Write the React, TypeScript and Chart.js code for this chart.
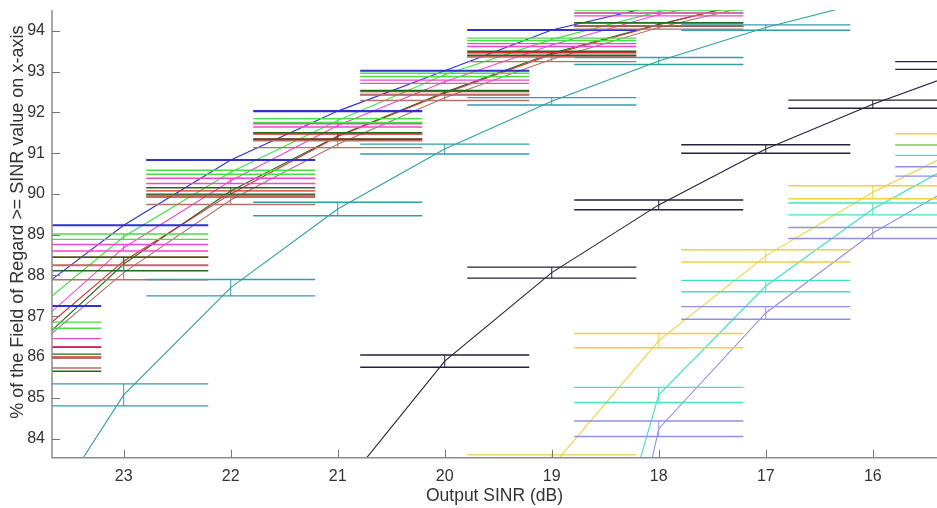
import React, { useEffect, useRef } from "react";
import { Chart, registerables } from "chart.js";

Chart.register(...registerables);

// Output SINR values (dB) at which each curve is sampled
const sinrDb = [24, 23, 22, 21, 20, 19, 18, 17, 16, 15];
const xTickValues = [23, 22, 21, 20, 19, 18, 17, 16];
const yTickValues = [84, 85, 86, 87, 88, 89, 90, 91, 92, 93, 94];
const xTitle = "Output SINR (dB)";
const yTitle = "% of the Field of Regard >= SINR value on x-axis";

// mean values (%) and half error bar heights for each series
const blueMean = [87.25, 89.23, 90.83, 92.03, 93.02, 94.02, 94.63, 95.2, null, null];
const blueErr = [0.008, 0.008, 0.008, 0.008, 0.008, 0.008, 0.008, 0.008, 0, 0];

const greenMean = [86.78, 88.95, 90.53, 91.8, 92.92, 93.79, 94.47, 95.0, null, null];
const greenErr = [0.075, 0.065, 0.05, 0.045, 0.04, 0.03, 0.04, 0.04, 0, 0];

const pinkMean = [86.35, 88.68, 90.32, 91.68, 92.75, 93.65, 94.4, 94.95, null, null];
const pinkErr = [0.1, 0.08, 0.065, 0.04, 0.04, 0.035, 0.035, 0.04, 0, 0];

const redMean = [86.12, 88.35, 90.0, 91.41, 92.47, 93.42, 94.15, 94.8, null, null];
const redErr = [0.12, 0.1, 0.075, 0.06, 0.04, 0.04, 0.04, 0.04, 0, 0];

const darkGreenMean = [85.86, 88.28, 90.07, 91.42, 92.49, 93.45, 94.16, 94.78, null, null];
const darkGreenErr = [0.21, 0.165, 0.08, 0.08, 0.05, 0.05, 0.04, 0.04, 0, 0];

const brownMean = [85.85, 88.07, 89.85, 91.22, 92.36, 93.3, 94.08, 94.7, null, null];
const brownErr = [0.12, 0.175, 0.11, 0.085, 0.07, 0.055, 0.04, 0.04, 0, 0];

const tealMean = [81.0, 85.07, 87.7, 89.63, 91.1, 92.27, 93.26, 94.08, 94.75, null];
const tealErr = [0.3, 0.27, 0.2, 0.165, 0.12, 0.09, 0.085, 0.065, 0.05, 0];

const blackMean = [null, null, null, 82.65, 85.9, 88.07, 89.73, 91.1, 92.2, 93.15];
const blackErr = [0, 0, 0, 0.2, 0.15, 0.135, 0.12, 0.105, 0.1, 0.095];

const yellowMean = [null, null, null, null, null, 83.31, 86.4, 88.48, 90.04, 91.34];
const yellowErr = [0, 0, 0, 0, 0, 0.29, 0.175, 0.15, 0.16, 0.135];

const turquoiseMean = [null, null, null, null, null, 76.0, 85.07, 87.74, 89.63, 91.07];
const turquoiseErr = [0, 0, 0, 0, 0, 0.3, 0.185, 0.14, 0.145, 0.125];

const lavenderMean = [null, null, null, null, null, 72.4, 84.24, 87.08, 89.04, 90.55];
const lavenderErr = [0, 0, 0, 0, 0, 0.3, 0.19, 0.155, 0.135, 0.115];

const seriesList = [
  { name: "blue", mean: blueMean, err: blueErr, color: "#2f2fd2" },
  { name: "green", mean: greenMean, err: greenErr, color: "#44e044" },
  { name: "pink", mean: pinkMean, err: pinkErr, color: "#ee48cc" },
  { name: "red", mean: redMean, err: redErr, color: "#d42a2a" },
  { name: "darkgreen", mean: darkGreenMean, err: darkGreenErr, color: "#1f6a1f" },
  { name: "brown", mean: brownMean, err: brownErr, color: "#b2706a" },
  { name: "teal", mean: tealMean, err: tealErr, color: "#2f9ea6" },
  { name: "black", mean: blackMean, err: blackErr, color: "#22223a" },
  { name: "yellow", mean: yellowMean, err: yellowErr, color: "#f0d040" },
  { name: "turquoise", mean: turquoiseMean, err: turquoiseErr, color: "#44e0c4" },
  { name: "lavender", mean: lavenderMean, err: lavenderErr, color: "#9090e2" },
];

const CAP_HALF = 0.79;
const AXIS_COLOR = "#8c8c8c";
const TEXT_COLOR = "#333333";
const FONT = "'Liberation Sans', Arial, Helvetica, sans-serif";

const errorBarPlugin = {
  id: "errorBars",
  afterDatasetsDraw(chart: any) {
    const { ctx, chartArea } = chart;
    const xs = chart.scales.x;
    const ys = chart.scales.y;
    ctx.save();
    ctx.beginPath();
    ctx.rect(chartArea.left, chartArea.top, chartArea.right - chartArea.left, chartArea.bottom - chartArea.top);
    ctx.clip();
    chart.data.datasets.forEach((ds: any) => {
      const errs: number[] = ds.errors;
      ds.data.forEach((pt: any) => {
        const e = errs[pt.i];
        const xc = xs.getPixelForValue(pt.x);
        const xl = xs.getPixelForValue(pt.x + CAP_HALF);
        const xr = xs.getPixelForValue(pt.x - CAP_HALF);
        const yt = ys.getPixelForValue(pt.y + e);
        const yb = ys.getPixelForValue(pt.y - e);
        ctx.strokeStyle = ds.borderColor;
        ctx.lineWidth = 1.4;
        ctx.beginPath();
        ctx.moveTo(xl, yt);
        ctx.lineTo(xr, yt);
        ctx.moveTo(xl, yb);
        ctx.lineTo(xr, yb);
        ctx.stroke();
        ctx.lineWidth = 1;
        ctx.beginPath();
        ctx.moveTo(xc, yt);
        ctx.lineTo(xc, yb);
        ctx.stroke();
      });
    });
    ctx.restore();

    // axes lines and inward ticks
    ctx.save();
    ctx.strokeStyle = AXIS_COLOR;
    ctx.lineWidth = 1.5;
    ctx.beginPath();
    ctx.moveTo(chartArea.left, chartArea.top);
    ctx.lineTo(chartArea.left, chartArea.bottom);
    ctx.lineTo(chartArea.right, chartArea.bottom);
    ctx.stroke();
    ctx.lineWidth = 1;
    ctx.strokeStyle = "#777777";
    ctx.beginPath();
    xTickValues.forEach((v) => {
      const px = Math.round(xs.getPixelForValue(v)) + 0.5;
      ctx.moveTo(px, chartArea.bottom);
      ctx.lineTo(px, chartArea.bottom - 8);
    });
    yTickValues.forEach((v) => {
      const py = Math.round(ys.getPixelForValue(v)) + 0.5;
      ctx.moveTo(chartArea.left, py);
      ctx.lineTo(chartArea.left + 8, py);
    });
    ctx.stroke();

    // y axis title (positioned like the original, slightly above centre)
    ctx.fillStyle = TEXT_COLOR;
    ctx.font = "18px " + FONT;
    ctx.textAlign = "center";
    ctx.textBaseline = "middle";
    ctx.translate(18, chartArea.top + (chartArea.bottom - chartArea.top) * 0.474);
    ctx.rotate(-Math.PI / 2);
    ctx.fillText(yTitle, 0, 0);
    ctx.restore();
  },
};

export default function App() {
  const canvasRef = useRef<HTMLCanvasElement | null>(null);

  useEffect(() => {
    document.body.style.margin = "0";
    const canvas = canvasRef.current;
    if (!canvas) return;

    const datasets = seriesList.map((s) => ({
      label: s.name,
      data: sinrDb
        .map((x, i) => ({ x, y: s.mean[i], i }))
        .filter((p) => p.y !== null && p.y !== undefined),
      errors: s.err,
      borderColor: s.color,
      backgroundColor: s.color,
      borderWidth: 1.1,
      pointRadius: 0,
      tension: 0,
      fill: false,
    }));

    const chart = new Chart(canvas, {
      type: "line",
      data: { datasets: datasets as any },
      plugins: [errorBarPlugin as any],
      options: {
        animation: false,
        responsive: false,
        maintainAspectRatio: false,
        parsing: false as any,
        layout: { padding: { top: 10, right: 0, left: 0, bottom: 0 } },
        plugins: {
          legend: { display: false },
          tooltip: { enabled: false },
        },
        scales: {
          x: {
            type: "linear",
            reverse: true,
            min: 15.4,
            max: 23.67,
            grid: { display: false, drawTicks: false },
            border: { display: false },
            afterBuildTicks: (scale: any) => {
              scale.ticks = xTickValues.map((v) => ({ value: v }));
            },
            afterFit: (scale: any) => {
              scale.height = 50.3;
              scale.paddingLeft = 0;
              scale.paddingRight = 0;
            },
            ticks: {
              autoSkip: false,
              maxRotation: 0,
              padding: 9,
              color: TEXT_COLOR,
              font: { family: FONT, size: 16 },
              callback: (v: any) => String(v),
            },
            title: {
              display: true,
              text: xTitle,
              color: TEXT_COLOR,
              font: { family: FONT, size: 17.5 },
              padding: { top: 0, bottom: 1 },
            },
          },
          y: {
            type: "linear",
            min: 83.53,
            max: 94.51,
            grid: { display: false, drawTicks: false },
            border: { display: false },
            afterBuildTicks: (scale: any) => {
              scale.ticks = yTickValues.map((v) => ({ value: v }));
            },
            afterFit: (scale: any) => {
              scale.width = 52;
              scale.paddingTop = 0;
              scale.paddingBottom = 0;
            },
            ticks: {
              autoSkip: false,
              padding: 7,
              color: TEXT_COLOR,
              font: { family: FONT, size: 16 },
              callback: (v: any) => String(v),
            },
            title: { display: false },
          },
        },
      },
    });

    return () => {
      chart.destroy();
    };
  }, []);

  return (
    <div style={{ position: "fixed", left: 0, top: 0, width: 937, height: 508, background: "#ffffff" }}>
      <canvas ref={canvasRef} width={937} height={508} style={{ width: 937, height: 508, display: "block" }} />
    </div>
  );
}
